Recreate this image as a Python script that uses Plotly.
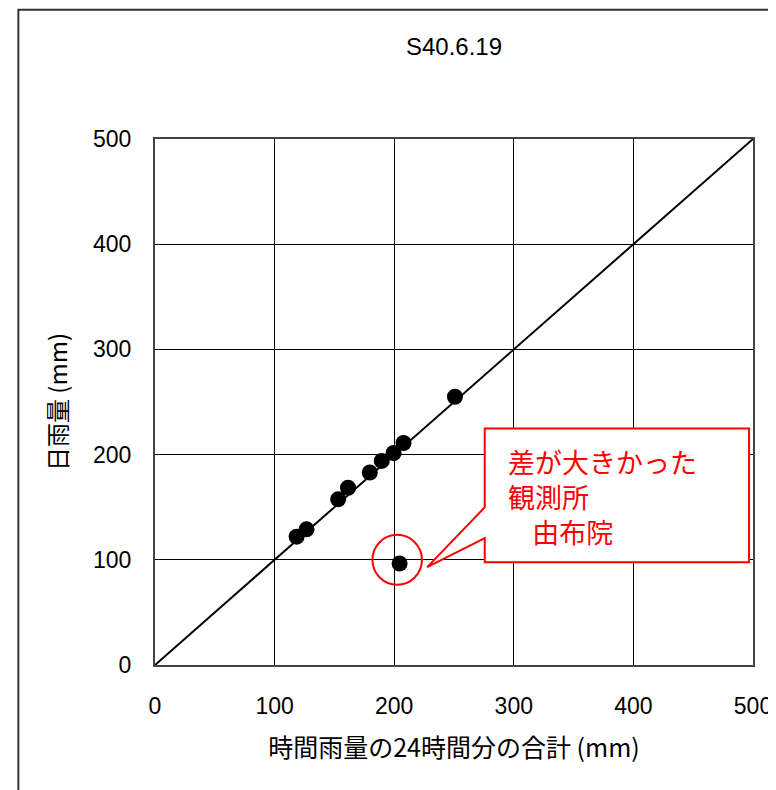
import plotly.graph_objects as go

# data: hourly-sum (x) vs daily rainfall (y), mm
hourly_sum = [118.4, 126.7, 153.1, 161.4, 179.6, 189.6, 199.5, 207.8, 250.8, 204.5]
daily_rain = [122.0, 129.0, 157.5, 168.5, 183.0, 194.0, 201.5, 211.0, 255.0, 96.5]
outlier_x, outlier_y = 202.5, 100.0
line_x = [0, 500]
line_y = [0, 500]
tick_vals = [0, 100, 200, 300, 400, 500]

title_text = "S40.6.19"
x_title = "時間雨量の24時間分の合計 (mm)"
y_title = "日雨量 (mm)"
callout_lines = ["差が大きかった", "観測所", "&nbsp;&nbsp;&nbsp;&nbsp;由布院"]

FONT = "Liberation Sans, Arial, Noto Sans CJK JP"

fig = go.Figure()
fig.add_trace(go.Scatter(x=line_x, y=line_y, mode="lines",
                         line=dict(color="black", width=2), hoverinfo="skip",
                         showlegend=False))
fig.add_trace(go.Scatter(x=hourly_sum, y=daily_rain, mode="markers",
                         marker=dict(color="black", size=16), showlegend=False))

# outer frame
fig.add_shape(type="rect", xref="paper", yref="paper",
              x0=-0.2285, x1=1.2, y0=-0.4, y1=1.2457,
              line=dict(color="#333333", width=2), layer="below")

# circle around outlier
fig.add_shape(type="circle", xref="x", yref="y",
              x0=outlier_x - 20.7, x1=outlier_x + 20.7,
              y0=outlier_y - 23.7, y1=outlier_y + 23.7,
              line=dict(color="red", width=2))

# callout box with pointer
fig.add_shape(type="path", xref="x", yref="y",
              path="M 275.7,224.9 L 496.7,224.9 L 496.7,97.7 L 275.7,97.7 "
                   "L 275.7,120.5 L 227.6,93 L 275.7,149.9 Z",
              line=dict(color="red", width=2), fillcolor="white", layer="above")

fig.add_annotation(x=293.5, y=160.5, xref="x", yref="y",
                   text="<br>".join(callout_lines), showarrow=False,
                   xanchor="left", yanchor="middle", align="left",
                   font=dict(family="Noto Sans CJK JP", size=27, color="red"))

axis_common = dict(range=[0, 500], tickvals=tick_vals, showgrid=True,
                   gridcolor="black", gridwidth=1, zeroline=False,
                   showline=True, linecolor="#444444", linewidth=2, mirror=True,
                   ticks="", tickfont=dict(family=FONT, size=23, color="black"),
                   fixedrange=True)

fig.update_layout(
    width=776, height=790,
    margin=dict(l=147, r=25, t=131, b=133),
    paper_bgcolor="white", plot_bgcolor="white",
    title=dict(text=title_text, x=0.5, xref="paper", y=1 - 39 / 790,
               yanchor="middle", font=dict(family=FONT, size=24, color="black")),
    xaxis=dict(**axis_common, ticklabelstandoff=19,
               title=dict(text=x_title, standoff=22,
                          font=dict(family="Noto Sans CJK JP", size=25, color="black"))),
    yaxis=dict(**axis_common, ticklabelstandoff=17,
               title=dict(text=y_title, standoff=19,
                          font=dict(family="Noto Sans CJK JP", size=24, color="black"))),
)

fig.write_html("out.html")
